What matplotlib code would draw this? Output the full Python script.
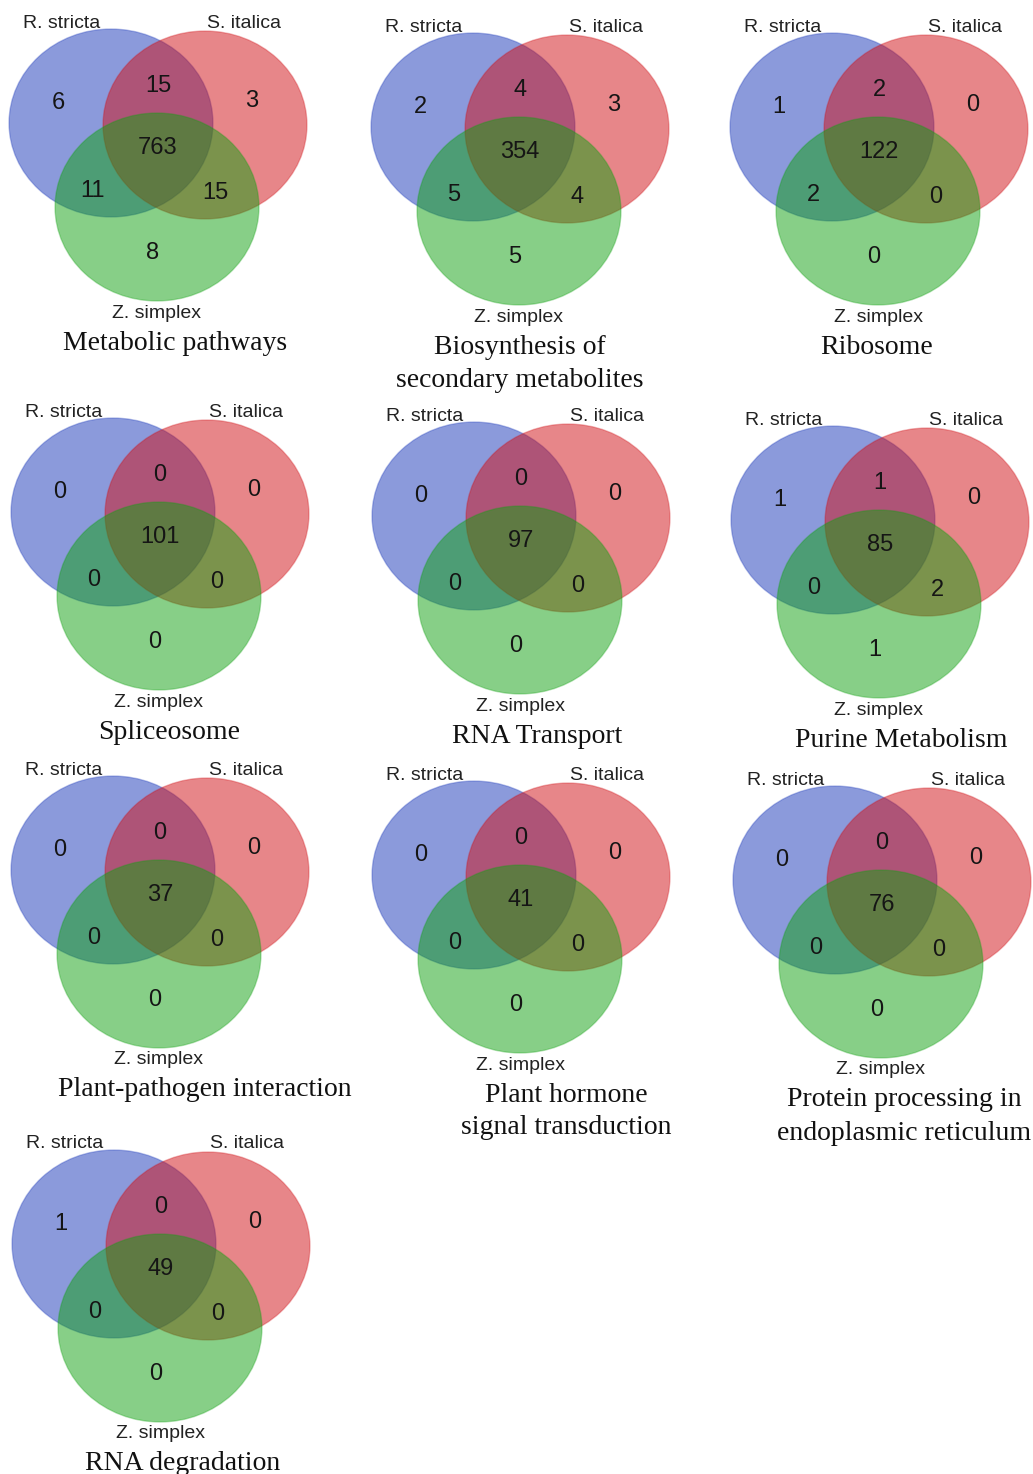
import matplotlib.pyplot as plt
from matplotlib.patches import Ellipse

# species names for the three sets
species = ["R. stricta", "S. italica", "Z. simplex"]

# KEGG pathway titles (one per diagram)
pathways = [
    "Metabolic pathways",
    "Biosynthesis of\nsecondary metabolites",
    "Ribosome",
    "Spliceosome",
    "RNA Transport",
    "Purine Metabolism",
    "Plant-pathogen interaction",
    "Plant hormone\nsignal transduction",
    "Protein processing in\nendoplasmic reticulum",
    "RNA degradation",
]

# region counts: [Rs only, Rs&Si, Si only, all three, Rs&Zs, Si&Zs, Zs only]
counts = [
    [6, 15, 3, 763, 11, 15, 8],
    [2, 4, 3, 354, 5, 4, 5],
    [1, 2, 0, 122, 2, 0, 0],
    [0, 0, 0, 101, 0, 0, 0],
    [0, 0, 0, 97, 0, 0, 0],
    [1, 1, 0, 85, 0, 2, 1],
    [0, 0, 0, 37, 0, 0, 0],
    [0, 0, 0, 41, 0, 0, 0],
    [0, 0, 0, 76, 0, 0, 0],
    [1, 0, 0, 49, 0, 0, 0],
]

# layout (pixels): anchor of each diagram and x-offset of its title
anchors = [(58, 103), (420, 107), (779, 107),
           (60, 492), (421, 496), (780, 500),
           (60, 850), (421, 855), (782, 860),
           (61, 1224)]
title_dx = [117, 100, 98, 109, 116, 121, 145, 145, 122, 122]

circle_pos = [(53, 20), (147, 22), (99, 104)]
circle_col = ["#1937b9", "#d10f15", "#11a111"]
number_pos = [(0, 0), (100, -17), (194, -2), (100, 45), (34, 88), (157, 90), (95, 150)]
label_pos = [(4, -80), (186, -80), (99, 210)]

fig = plt.figure(figsize=(10.33, 14.74), dpi=100)
ax = fig.add_axes([0, 0, 1, 1])
ax.set_xlim(0, 1033)
ax.set_ylim(1474, 0)
ax.axis("off")

for (ox, oy), name, vals, tdx in zip(anchors, pathways, counts, title_dx):
    for (cx, cy), c in zip(circle_pos, circle_col):
        ax.add_patch(Ellipse((ox + cx, oy + cy), 204, 188, facecolor=c,
                             alpha=0.5, edgecolor="none"))
        ax.add_patch(Ellipse((ox + cx, oy + cy), 204, 188, facecolor="none",
                             edgecolor=c, alpha=0.3, lw=1))
    for (dx, dy), v in zip(number_pos, vals):
        ax.text(ox + dx, oy + dy, str(v), ha="center", va="center",
                fontsize=17, family="Liberation Sans", color="#151515")
    for (dx, dy), s in zip(label_pos, species):
        ax.text(ox + dx, oy + dy, s, ha="center", va="center",
                fontsize=14, family="Liberation Sans", color="#222222")
    for i, line in enumerate(name.split("\n")):
        ax.text(ox + tdx, oy + 240 + 33 * i, line, ha="center", va="center",
                fontsize=20, family="Liberation Serif", color="#111111")

fig.savefig("out.png", dpi=100)
